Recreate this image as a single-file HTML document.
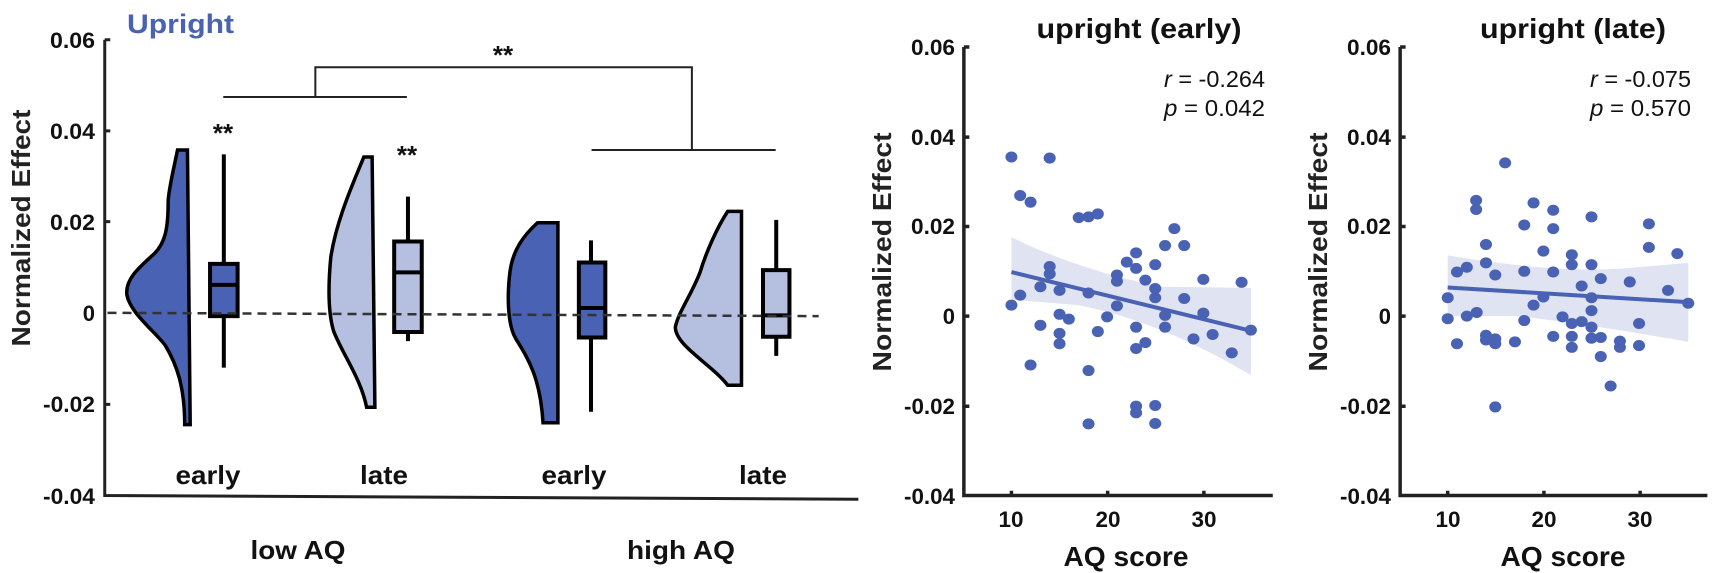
<!DOCTYPE html>
<html><head><meta charset="utf-8"><style>
html,body{margin:0;padding:0;background:#fff;}
svg{display:block;}
.t{font-family:"Liberation Sans",sans-serif;font-weight:bold;fill:#111;}
.yl{font-family:"Liberation Sans",sans-serif;font-weight:900;fill:#222;}
</style></head><body>
<svg width="1713" height="573" viewBox="0 0 1713 573" xmlns="http://www.w3.org/2000/svg">
<g transform="scale(0.5513,0.3676)">
 <g fill="none" stroke="#222">
  <path d="M190,108 L190,1348 L1557,1358" stroke-width="3" vector-effect="non-scaling-stroke"/>
  <path d="M190,108 L200,108 M190,356 L200,356 M190,603 L200,603 M190,1100 L200,1100" stroke-width="3" vector-effect="non-scaling-stroke"/>
 </g>
 <g stroke="#000" stroke-width="3.5">
  <path d="M340,408 L322,408 C315,460 305,520 305,550 C305,620 300,660 280,690 C250,730 228,760 230,800 C235,850 280,900 300,940 C320,990 335,1050 335,1155 L345,1155 Z" fill="#4a62b3" vector-effect="non-scaling-stroke"/>
  <path d="M675,427 L660,427 C640,500 610,600 600,700 C595,780 595,850 605,900 C620,960 655,1030 665,1108 L680,1108 Z" fill="#b5bfe0" vector-effect="non-scaling-stroke"/>
  <path d="M1012,606 L975,606 C950,640 930,680 925,740 C920,800 920,880 935,920 C960,980 980,1030 985,1150 L1012,1150 Z" fill="#4a62b3" vector-effect="non-scaling-stroke"/>
  <path d="M1345,575 L1320,575 C1300,620 1280,690 1270,740 C1255,800 1230,850 1225,890 C1225,940 1290,990 1320,1048 L1345,1048 Z" fill="#b5bfe0" vector-effect="non-scaling-stroke"/>
 </g>
 <g stroke="#000" stroke-width="4">
  <line x1="406" y1="420" x2="406" y2="1000" vector-effect="non-scaling-stroke"/>
  <rect x="381" y="718" width="50" height="142" fill="#4a62b3" vector-effect="non-scaling-stroke"/>
  <line x1="381" y1="775" x2="431" y2="775" vector-effect="non-scaling-stroke"/>
  <line x1="740" y1="535" x2="740" y2="928" vector-effect="non-scaling-stroke"/>
  <rect x="715" y="657" width="50" height="246" fill="#b5bfe0" vector-effect="non-scaling-stroke"/>
  <line x1="715" y1="741" x2="765" y2="741" vector-effect="non-scaling-stroke"/>
  <line x1="1072" y1="654" x2="1072" y2="1120" vector-effect="non-scaling-stroke"/>
  <rect x="1050" y="714" width="48" height="204" fill="#4a62b3" vector-effect="non-scaling-stroke"/>
  <line x1="1050" y1="838" x2="1098" y2="838" vector-effect="non-scaling-stroke"/>
  <line x1="1408" y1="598" x2="1408" y2="968" vector-effect="non-scaling-stroke"/>
  <rect x="1384" y="735" width="48" height="181" fill="#b5bfe0" vector-effect="non-scaling-stroke"/>
  <line x1="1384" y1="858" x2="1432" y2="858" vector-effect="non-scaling-stroke"/>
 </g>
 <line x1="195" y1="851" x2="1485" y2="860" stroke="#333" stroke-width="2.5" stroke-dasharray="9,6" vector-effect="non-scaling-stroke"/>
 <path d="M405,264 L738,264 M572,264 L572,183 L1255,183 L1255,408 M1073,408 L1407,408" fill="none" stroke="#222" stroke-width="2" vector-effect="non-scaling-stroke"/>
</g>
<text x="127" y="33" font-family="Liberation Sans,sans-serif" font-weight="bold" font-size="27" fill="#4a62b3" textLength="107" lengthAdjust="spacingAndGlyphs">Upright</text>
<g class="t" font-size="22" text-anchor="end">
 <text x="95" y="48" textLength="45" lengthAdjust="spacingAndGlyphs">0.06</text>
 <text x="95" y="139" textLength="45" lengthAdjust="spacingAndGlyphs">0.04</text>
 <text x="95" y="230" textLength="45" lengthAdjust="spacingAndGlyphs">0.02</text>
 <text x="95" y="321">0</text>
 <text x="95" y="412" textLength="52" lengthAdjust="spacingAndGlyphs">-0.02</text>
 <text x="95" y="504" textLength="52" lengthAdjust="spacingAndGlyphs">-0.04</text>
</g>
<text class="yl" font-size="26" text-anchor="middle" transform="translate(30,228) rotate(-90)" textLength="237" lengthAdjust="spacingAndGlyphs">Normalized Effect</text>
<g class="t" font-size="26" text-anchor="middle">
 <text x="223" y="142">**</text><text x="407" y="164">**</text><text x="503" y="64">**</text>
 <text x="208" y="484" textLength="65" lengthAdjust="spacingAndGlyphs">early</text>
 <text x="384" y="484" textLength="48" lengthAdjust="spacingAndGlyphs">late</text>
 <text x="574" y="484" textLength="65" lengthAdjust="spacingAndGlyphs">early</text>
 <text x="763" y="484" textLength="48" lengthAdjust="spacingAndGlyphs">late</text>
 <text x="298" y="559" textLength="95" lengthAdjust="spacingAndGlyphs">low AQ</text>
 <text x="681" y="559" textLength="108" lengthAdjust="spacingAndGlyphs">high AQ</text>
</g>

<g transform="translate(860,0) scale(0.5467,0.3676)">
 <path d="M277,645 C350,700 450,750 550,780 L715,783 L715,1020 C600,920 500,860 400,830 L277,815 Z" fill="#dfe3f2"/>
 <g fill="#4a62b3">
  <ellipse cx="277" cy="427" rx="11" ry="15"/><ellipse cx="347" cy="430" rx="11" ry="15"/><ellipse cx="293" cy="532" rx="11" ry="15"/><ellipse cx="312" cy="550" rx="11" ry="15"/><ellipse cx="400" cy="592" rx="11" ry="15"/><ellipse cx="418" cy="590" rx="11" ry="15"/><ellipse cx="435" cy="582" rx="11" ry="15"/><ellipse cx="575" cy="622" rx="11" ry="15"/><ellipse cx="558" cy="668" rx="11" ry="15"/><ellipse cx="593" cy="668" rx="11" ry="15"/><ellipse cx="488" cy="713" rx="11" ry="15"/><ellipse cx="505" cy="688" rx="11" ry="15"/><ellipse cx="505" cy="730" rx="11" ry="15"/><ellipse cx="540" cy="720" rx="11" ry="15"/><ellipse cx="347" cy="725" rx="11" ry="15"/><ellipse cx="347" cy="745" rx="11" ry="15"/><ellipse cx="470" cy="748" rx="11" ry="15"/><ellipse cx="470" cy="765" rx="11" ry="15"/><ellipse cx="522" cy="762" rx="11" ry="15"/><ellipse cx="540" cy="785" rx="11" ry="15"/><ellipse cx="540" cy="810" rx="11" ry="15"/><ellipse cx="628" cy="760" rx="11" ry="15"/><ellipse cx="698" cy="768" rx="11" ry="15"/><ellipse cx="330" cy="780" rx="11" ry="15"/><ellipse cx="365" cy="790" rx="11" ry="15"/><ellipse cx="418" cy="797" rx="11" ry="15"/><ellipse cx="593" cy="812" rx="11" ry="15"/><ellipse cx="293" cy="803" rx="11" ry="15"/><ellipse cx="277" cy="830" rx="11" ry="15"/><ellipse cx="470" cy="832" rx="11" ry="15"/><ellipse cx="452" cy="862" rx="11" ry="15"/><ellipse cx="558" cy="858" rx="11" ry="15"/><ellipse cx="628" cy="852" rx="11" ry="15"/><ellipse cx="365" cy="855" rx="11" ry="15"/><ellipse cx="382" cy="868" rx="11" ry="15"/><ellipse cx="330" cy="885" rx="11" ry="15"/><ellipse cx="505" cy="890" rx="11" ry="15"/><ellipse cx="558" cy="890" rx="11" ry="15"/><ellipse cx="435" cy="902" rx="11" ry="15"/><ellipse cx="715" cy="898" rx="11" ry="15"/><ellipse cx="365" cy="907" rx="11" ry="15"/><ellipse cx="365" cy="935" rx="11" ry="15"/><ellipse cx="645" cy="910" rx="11" ry="15"/><ellipse cx="610" cy="922" rx="11" ry="15"/><ellipse cx="522" cy="932" rx="11" ry="15"/><ellipse cx="505" cy="948" rx="11" ry="15"/><ellipse cx="680" cy="960" rx="11" ry="15"/><ellipse cx="312" cy="993" rx="11" ry="15"/><ellipse cx="418" cy="1008" rx="11" ry="15"/><ellipse cx="505" cy="1105" rx="11" ry="15"/><ellipse cx="505" cy="1123" rx="11" ry="15"/><ellipse cx="540" cy="1103" rx="11" ry="15"/><ellipse cx="418" cy="1153" rx="11" ry="15"/><ellipse cx="540" cy="1152" rx="11" ry="15"/>
 </g>
 <line x1="277" y1="740" x2="715" y2="900" stroke="#4a62b3" stroke-width="4" vector-effect="non-scaling-stroke"/>
 <path d="M1075,695 C1200,725 1300,740 1400,730 L1515,715 L1515,930 C1400,900 1300,875 1200,860 L1075,860 Z" fill="#dfe3f2"/>
 <g fill="#4a62b3">
  <ellipse cx="1180" cy="443" rx="11" ry="15"/><ellipse cx="1127" cy="545" rx="11" ry="15"/><ellipse cx="1127" cy="570" rx="11" ry="15"/><ellipse cx="1232" cy="552" rx="11" ry="15"/><ellipse cx="1268" cy="572" rx="11" ry="15"/><ellipse cx="1338" cy="590" rx="11" ry="15"/><ellipse cx="1215" cy="612" rx="11" ry="15"/><ellipse cx="1268" cy="622" rx="11" ry="15"/><ellipse cx="1443" cy="609" rx="11" ry="15"/><ellipse cx="1443" cy="673" rx="11" ry="15"/><ellipse cx="1145" cy="665" rx="11" ry="15"/><ellipse cx="1250" cy="683" rx="11" ry="15"/><ellipse cx="1302" cy="693" rx="11" ry="15"/><ellipse cx="1495" cy="690" rx="11" ry="15"/><ellipse cx="1110" cy="727" rx="11" ry="15"/><ellipse cx="1092" cy="740" rx="11" ry="15"/><ellipse cx="1145" cy="715" rx="11" ry="15"/><ellipse cx="1215" cy="738" rx="11" ry="15"/><ellipse cx="1268" cy="740" rx="11" ry="15"/><ellipse cx="1302" cy="720" rx="11" ry="15"/><ellipse cx="1338" cy="720" rx="11" ry="15"/><ellipse cx="1162" cy="748" rx="11" ry="15"/><ellipse cx="1355" cy="758" rx="11" ry="15"/><ellipse cx="1408" cy="767" rx="11" ry="15"/><ellipse cx="1320" cy="778" rx="11" ry="15"/><ellipse cx="1478" cy="790" rx="11" ry="15"/><ellipse cx="1075" cy="810" rx="11" ry="15"/><ellipse cx="1250" cy="808" rx="11" ry="15"/><ellipse cx="1338" cy="810" rx="11" ry="15"/><ellipse cx="1232" cy="830" rx="11" ry="15"/><ellipse cx="1128" cy="850" rx="11" ry="15"/><ellipse cx="1338" cy="845" rx="11" ry="15"/><ellipse cx="1515" cy="825" rx="11" ry="15"/><ellipse cx="1075" cy="867" rx="11" ry="15"/><ellipse cx="1110" cy="860" rx="11" ry="15"/><ellipse cx="1285" cy="862" rx="11" ry="15"/><ellipse cx="1215" cy="872" rx="11" ry="15"/><ellipse cx="1302" cy="880" rx="11" ry="15"/><ellipse cx="1320" cy="875" rx="11" ry="15"/><ellipse cx="1338" cy="890" rx="11" ry="15"/><ellipse cx="1425" cy="880" rx="11" ry="15"/><ellipse cx="1145" cy="912" rx="11" ry="15"/><ellipse cx="1162" cy="922" rx="11" ry="15"/><ellipse cx="1145" cy="925" rx="11" ry="15"/><ellipse cx="1092" cy="935" rx="11" ry="15"/><ellipse cx="1198" cy="930" rx="11" ry="15"/><ellipse cx="1268" cy="915" rx="11" ry="15"/><ellipse cx="1302" cy="915" rx="11" ry="15"/><ellipse cx="1338" cy="920" rx="11" ry="15"/><ellipse cx="1355" cy="918" rx="11" ry="15"/><ellipse cx="1390" cy="928" rx="11" ry="15"/><ellipse cx="1390" cy="945" rx="11" ry="15"/><ellipse cx="1302" cy="945" rx="11" ry="15"/><ellipse cx="1425" cy="940" rx="11" ry="15"/><ellipse cx="1162" cy="935" rx="11" ry="15"/><ellipse cx="1355" cy="970" rx="11" ry="15"/><ellipse cx="1373" cy="1050" rx="11" ry="15"/><ellipse cx="1162" cy="1107" rx="11" ry="15"/>
 </g>
 <line x1="1075" y1="782" x2="1515" y2="822" stroke="#4a62b3" stroke-width="4" vector-effect="non-scaling-stroke"/>
 <g fill="none" stroke="#222" stroke-width="3.5">
  <path d="M190,128 L190,1348 L755,1348" vector-effect="non-scaling-stroke"/>
  <path d="M190,128 L200,128 M190,373 L200,373 M190,616 L200,616 M190,860 L200,860 M190,1105 L200,1105 M277,1348 L277,1335 M453,1348 L453,1335 M629,1348 L629,1335" vector-effect="non-scaling-stroke"/>
  <path d="M988,128 L988,1348 L1550,1348" vector-effect="non-scaling-stroke"/>
  <path d="M988,128 L998,128 M988,373 L998,373 M988,616 L998,616 M988,860 L998,860 M988,1105 L998,1105 M1075,1348 L1075,1335 M1251,1348 L1251,1335 M1427,1348 L1427,1335" vector-effect="non-scaling-stroke"/>
 </g>
</g>
<g class="t" font-size="22" text-anchor="end">
 <text x="955" y="55" textLength="44" lengthAdjust="spacingAndGlyphs">0.06</text>
 <text x="955" y="145" textLength="44" lengthAdjust="spacingAndGlyphs">0.04</text>
 <text x="955" y="234" textLength="44" lengthAdjust="spacingAndGlyphs">0.02</text>
 <text x="955" y="324">0</text>
 <text x="955" y="414" textLength="51" lengthAdjust="spacingAndGlyphs">-0.02</text>
 <text x="955" y="504" textLength="51" lengthAdjust="spacingAndGlyphs">-0.04</text>
 <text x="1391" y="55" textLength="44" lengthAdjust="spacingAndGlyphs">0.06</text>
 <text x="1391" y="145" textLength="44" lengthAdjust="spacingAndGlyphs">0.04</text>
 <text x="1391" y="234" textLength="44" lengthAdjust="spacingAndGlyphs">0.02</text>
 <text x="1391" y="324">0</text>
 <text x="1391" y="414" textLength="51" lengthAdjust="spacingAndGlyphs">-0.02</text>
 <text x="1391" y="504" textLength="51" lengthAdjust="spacingAndGlyphs">-0.04</text>
</g>
<g class="t" font-size="22" text-anchor="middle">
 <text x="1011" y="527" textLength="25" lengthAdjust="spacingAndGlyphs">10</text><text x="1108" y="527" textLength="25" lengthAdjust="spacingAndGlyphs">20</text><text x="1204" y="527" textLength="25" lengthAdjust="spacingAndGlyphs">30</text>
 <text x="1448" y="527" textLength="25" lengthAdjust="spacingAndGlyphs">10</text><text x="1544" y="527" textLength="25" lengthAdjust="spacingAndGlyphs">20</text><text x="1640" y="527" textLength="25" lengthAdjust="spacingAndGlyphs">30</text>
</g>
<g class="t" font-size="28" text-anchor="middle">
 <text x="1126" y="566" textLength="125" lengthAdjust="spacingAndGlyphs">AQ score</text>
 <text x="1563" y="566" textLength="125" lengthAdjust="spacingAndGlyphs">AQ score</text>
 <text x="1139" y="38" textLength="205" lengthAdjust="spacingAndGlyphs">upright (early)</text>
 <text x="1573" y="38" textLength="186" lengthAdjust="spacingAndGlyphs">upright (late)</text>
</g>
<g font-family="Liberation Sans,sans-serif" font-size="23" fill="#111" text-anchor="end">
 <text x="1265" y="87" textLength="101" lengthAdjust="spacingAndGlyphs"><tspan font-style="italic">r</tspan> = -0.264</text>
 <text x="1265" y="116" textLength="101" lengthAdjust="spacingAndGlyphs"><tspan font-style="italic">p</tspan> = 0.042</text>
 <text x="1691" y="87" textLength="101" lengthAdjust="spacingAndGlyphs"><tspan font-style="italic">r</tspan> = -0.075</text>
 <text x="1691" y="116" textLength="101" lengthAdjust="spacingAndGlyphs"><tspan font-style="italic">p</tspan> = 0.570</text>
</g>
<text class="yl" font-size="26" text-anchor="middle" transform="translate(891,252) rotate(-90)" textLength="239" lengthAdjust="spacingAndGlyphs">Normalized Effect</text>
<text class="yl" font-size="26" text-anchor="middle" transform="translate(1327,252) rotate(-90)" textLength="239" lengthAdjust="spacingAndGlyphs">Normalized Effect</text>
</svg>
</body></html>
